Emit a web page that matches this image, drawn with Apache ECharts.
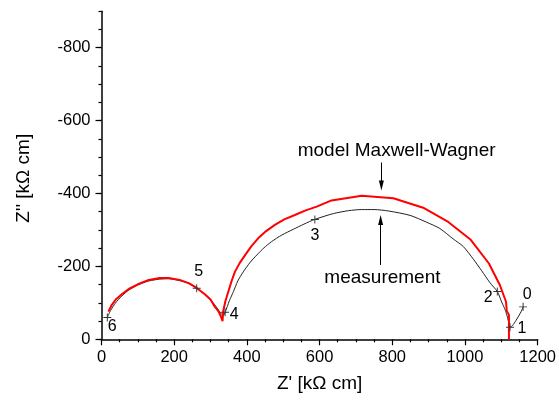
<!DOCTYPE html>
<html><head><meta charset="utf-8">
<script src="https://cdn.jsdelivr.net/npm/echarts@6/dist/echarts.min.js"></script>
<style>html,body{margin:0;padding:0;background:#fff}#c{width:559px;height:402px}</style>
</head><body><div id="c"></div>
<script>
// measurement (black) Z' and Z'' values [kΩ cm]
const measX = [16,25,38,55,75,100,130,160,185,215,240,262,285,300,313,322,329,334,338,341,346,352,363,375,390,408,427,447,468,496,528,557,587,638,680,716,750,790,849,895,931,968,995,1023,1046,1069,1089,1102,1111,1117,1121,1124,1131,1140,1149,1155,1160];
const measY = [-60,-79,-99,-118,-135,-149,-160,-165,-166,-161,-153,-140,-122,-108,-93,-80,-71,-66,-68,-76,-90,-106,-131,-160,-185,-210,-231,-251,-268,-286,-302,-316,-329,-345,-353,-356,-356,-352,-340,-321,-304,-275,-255,-220,-188,-155,-131,-100,-80,-60,-44,-33,-38,-51,-66,-77,-89];
// model Maxwell-Wagner (red)
const modelX = [19,28,40,55,75,100,130,160,185,215,240,262,285,300,312,321,328,333,335,341,349,358,367,380,395,412,431,453,477,503,532,560,592,633,716,803,885,954,1016,1066,1096,1113,1115,1121,1121];
const modelY = [-76,-94,-110,-123,-138,-151,-163,-168,-168,-163,-154,-141,-123,-109,-89,-78,-64,-50,-78,-105,-131,-160,-185,-209,-231,-255,-277,-297,-314,-329,-341,-353,-364,-381,-394,-387,-361,-322,-273,-208,-149,-103,-78,-67,0];
// labelled measurement points
const pointLabels = ['6','5','4','3','2','1','0'];
const pointX = [16,262,340,587,1089,1124,1160];
const pointY = [-60,-140,-74,-329,-131,-33,-89];
// axis ticks
const xTickValues = [0,200,400,600,800,1000,1200];
const yTickValues = [0,-200,-400,-600,-800];
// annotations
const annText = ['model Maxwell-Wagner','measurement'];
const annX = [812,773];
const annY = [-517,-170];
const arrowX = [770,768];
const arrowFromY = [-485,-204];
const arrowToY = [-408,-341];

const FONT = 'Arial, "Liberation Sans", Helvetica, sans-serif';
const labelOffsets = [[5,9],[2,-17],[9,2],[0,16],[-9,6],[12,1],[4,-12]];
const plusPath = 'path://M4.4,0H5.6V4.4H10V5.6H5.6V10H4.4V5.6H0V4.4H4.4Z';

const chart = echarts.init(document.getElementById('c'), null, {renderer:'canvas'});
const axisColor = '#000';
chart.setOption({
  animation: false,
  backgroundColor: '#fff',
  grid: {left: 101.5, right: 20.7, top: 11.3, bottom: 62.7, containLabel: false},
  xAxis: {
    type: 'value', min: 0, max: 1200, interval: 200,
    name: "Z' [kΩ cm]", nameLocation: 'middle', nameGap: 35,
    nameTextStyle: {fontFamily: FONT, fontSize: 19, color: '#000'},
    axisLine: {show: true, onZero: false, lineStyle: {color: axisColor, width: 1.5}},
    axisTick: {show: true, length: 6, lineStyle: {color: axisColor, width: 1.2}},
    minorTick: {show: true, splitNumber: 4, length: 3, lineStyle: {color: axisColor, width: 1.2}},
    axisLabel: {fontFamily: FONT, fontSize: 16.5, color: '#000', margin: 10,
      formatter: v => xTickValues.includes(v) ? String(v) : ''},
    splitLine: {show: false}
  },
  yAxis: [{
    type: 'value', min: -900, max: 0, interval: 50, inverse: true,
    name: "Z'' [kΩ cm]", nameLocation: 'middle', nameGap: 68,
    nameTextStyle: {fontFamily: FONT, fontSize: 19, color: '#000', padding: [0, 6, 0, 0]},
    axisLine: {show: true, onZero: false, lineStyle: {color: axisColor, width: 1.5}},
    axisTick: {show: true, length: 3, lineStyle: {color: axisColor, width: 1.2}},
    axisLabel: {fontFamily: FONT, fontSize: 16.5, color: '#000', margin: 11,
      formatter: v => yTickValues.includes(v) ? String(v) : ''},
    splitLine: {show: false}
  }, {
    type: 'value', min: -900, max: 0, inverse: true, position: 'left', offset: 0,
    axisLine: {show: false},
    axisTick: {show: true, length: 6, customValues: yTickValues, lineStyle: {color: axisColor, width: 1.2}},
    axisLabel: {show: false},
    splitLine: {show: false}
  }],
  series: [
    {
      name: 'measurement', type: 'line', smooth: 0.25, showSymbol: false, symbol: 'none',
      data: measX.map((x, i) => [x, measY[i]]),
      lineStyle: {color: '#222', width: 1}, z: 2, silent: true
    },
    {
      name: 'model Maxwell-Wagner', type: 'line', smooth: false, showSymbol: false, symbol: 'none',
      data: modelX.map((x, i) => [x, modelY[i]]),
      lineStyle: {color: '#ff0000', width: 2}, z: 3, silent: true
    },
    {
      name: 'points', type: 'scatter', symbol: plusPath, symbolSize: 8,
      itemStyle: {color: '#333', opacity: 1}, z: 5, silent: true,
      data: pointX.map((x, i) => ({
        value: [x, pointY[i]],
        label: {show: true, formatter: pointLabels[i], position: 'inside', offset: labelOffsets[i],
          fontFamily: FONT, fontSize: 16, color: '#000', textBorderWidth: 0,
          align: 'center', verticalAlign: 'middle'}
      }))
    },
    {
      name: 'annotations', type: 'scatter', symbol: 'circle', symbolSize: 1,
      itemStyle: {color: 'rgba(0,0,0,0)', opacity: 1}, z: 6, silent: true,
      data: annX.map((x, i) => ({
        value: [x, annY[i]],
        label: {show: true, formatter: annText[i], position: 'inside',
          fontFamily: FONT, fontSize: 19, color: '#000', textBorderWidth: 0,
          align: 'center', verticalAlign: 'middle'}
      })),
      markLine: {
        silent: true, symbol: ['none', 'none'], animation: false,
        label: {show: false},
        lineStyle: {color: '#000', width: 1, type: 'solid'},
        data: arrowX.map((x, i) => [{coord: [x, arrowFromY[i]]}, {coord: [x, arrowToY[i] + (i === 0 ? -20 : 20)]}])
      }
    },
    {
      name: 'arrowheads', type: 'scatter', symbolSize: [5, 10], z: 6, silent: true,
      itemStyle: {color: '#000', opacity: 1},
      data: arrowX.map((x, i) => ({
        value: [x, arrowToY[i]],
        symbol: i === 0 ? 'path://M0,0L10,0L5,18Z' : 'path://M5,0L10,18L0,18Z',
        symbolOffset: [0, i === 0 ? -5 : 5]
      }))
    }
  ]
});
</script>
</body></html>
